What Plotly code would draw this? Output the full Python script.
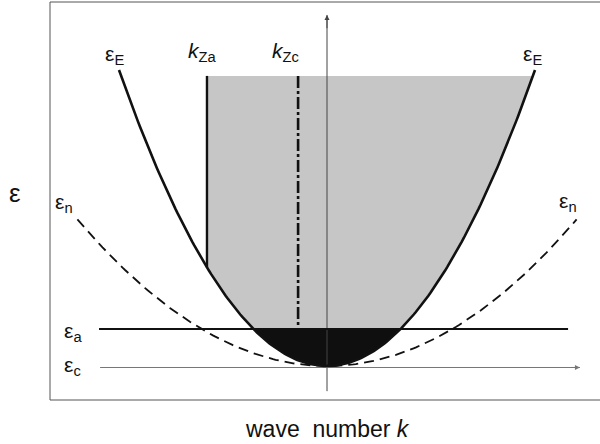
import numpy as np
import plotly.graph_objects as go

# dispersion curves: eps = curvature * k^2 (units)
EPS_E_CURV = 1.0        # epsilon_E
EPS_N_CURV = 0.344      # epsilon_n (dashed)
EPS_E_KMAX = 1.0
EPS_N_KMAX = 1.2

EPS_A = 0.125           # epsilon_a level
EPS_C = -0.005          # epsilon_c level (k axis)
SHADE_TOP = 0.98
K_ZA = -0.577
K_ZC = -0.139

LINE_A_RANGE = [-1.096, 1.159]
K_AXIS_RANGE = [-1.091, 1.216]
E_AXIS_RANGE = [-0.085, 1.186]

X_RANGE = [-327 / 208, 273 / 208]
Y_RANGE = [-78 / 296, 366 / 296]

FONT = "Liberation Sans, Arial, sans-serif"


def parab(curv, k0, k1, n=200):
    k = np.linspace(k0, k1, n)
    return k, curv * k ** 2


fig = go.Figure()

# light grey region (k > k_Za, above eps_a, inside eps_E)
k_cross = np.sqrt(EPS_A / EPS_E_CURV)
k_top = np.sqrt(SHADE_TOP / EPS_E_CURV)
kl, el = parab(EPS_E_CURV, K_ZA, -k_cross)
kr, er = parab(EPS_E_CURV, k_cross, k_top)
gx = [K_ZA] + list(kl) + list(kr) + [K_ZA]
gy = [SHADE_TOP] + list(el) + list(er) + [SHADE_TOP]
fig.add_trace(go.Scatter(x=gx, y=gy, fill="toself", fillcolor="rgb(198,198,198)",
                         line=dict(width=0), mode="lines", hoverinfo="skip"))

# black region below eps_a
kb, eb = parab(EPS_E_CURV, -k_cross, k_cross)
fig.add_trace(go.Scatter(x=list(kb) + [kb[0]], y=list(eb) + [eb[0]], fill="toself",
                         fillcolor="rgb(15,15,15)", line=dict(width=0),
                         mode="lines", hoverinfo="skip"))

# axes
fig.add_trace(go.Scatter(x=[0, 0], y=E_AXIS_RANGE, mode="lines",
                         line=dict(color="#444", width=1), hoverinfo="skip"))
fig.add_trace(go.Scatter(x=K_AXIS_RANGE, y=[EPS_C, EPS_C], mode="lines",
                         line=dict(color="#777", width=1.2), hoverinfo="skip"))

# eps_a line
fig.add_trace(go.Scatter(x=LINE_A_RANGE, y=[EPS_A, EPS_A], mode="lines",
                         line=dict(color="#111", width=2), hoverinfo="skip"))

# eps_n dashed
kn, en = parab(EPS_N_CURV, -EPS_N_KMAX, EPS_N_KMAX)
fig.add_trace(go.Scatter(x=kn, y=en, mode="lines",
                         line=dict(color="#111", width=1.8, dash="10px,6px"),
                         hoverinfo="skip"))

# eps_E solid
ke, ee = parab(EPS_E_CURV, -EPS_E_KMAX, EPS_E_KMAX)
fig.add_trace(go.Scatter(x=ke, y=ee, mode="lines",
                         line=dict(color="#111", width=2.6), hoverinfo="skip"))

# k_Za and k_Zc
fig.add_trace(go.Scatter(x=[K_ZA, K_ZA], y=[SHADE_TOP, EPS_E_CURV * K_ZA ** 2],
                         mode="lines", line=dict(color="#111", width=2.4),
                         hoverinfo="skip"))
fig.add_trace(go.Scatter(x=[K_ZC, K_ZC], y=[SHADE_TOP, EPS_A], mode="lines",
                         line=dict(color="#111", width=2.6, dash="12px,3px,3px,3px"),
                         hoverinfo="skip"))

labels = [
    ("ε", -1.50, 0.584, 26),
    ("ε<sub>n</sub>", -1.265, 0.55, 21),
    ("ε<sub>E</sub>", -1.02, 1.05, 21),
    ("<i>k</i><sub>Za</sub>", -0.60, 1.06, 21),
    ("<i>k</i><sub>Zc</sub>", -0.20, 1.06, 21),
    ("ε<sub>E</sub>", 0.99, 1.05, 21),
    ("ε<sub>n</sub>", 1.16, 0.555, 21),
    ("ε<sub>a</sub>", -1.22, 0.115, 21),
    ("ε<sub>c</sub>", -1.222, 0.0, 21),
    ("wave  number <i>k</i>", 0.0, -0.213, 23),
]
for text, x, y, size in labels:
    fig.add_annotation(x=x, y=y, text=text, showarrow=False,
                       xanchor="center", yanchor="middle",
                       font=dict(family=FONT, size=size, color="#111"))

# arrow heads on the axes
fig.add_annotation(x=0, y=E_AXIS_RANGE[1], ax=0, ay=E_AXIS_RANGE[1] - 0.05,
                   xref="x", yref="y", axref="x", ayref="y", text="",
                   showarrow=True, arrowhead=2, arrowsize=1, arrowwidth=1,
                   arrowcolor="#444")
fig.add_annotation(x=K_AXIS_RANGE[1], y=EPS_C, ax=K_AXIS_RANGE[1] - 0.05, ay=EPS_C,
                   xref="x", yref="y", axref="x", ayref="y", text="",
                   showarrow=True, arrowhead=2, arrowsize=1, arrowwidth=1,
                   arrowcolor="#777")

# frame (top, left, bottom)
frame = dict(color="#555", width=1)
fig.add_shape(type="line", xref="paper", yref="paper", x0=50 / 600, x1=1,
              y0=1 - 2 / 444, y1=1 - 2 / 444, line=frame)
fig.add_shape(type="line", xref="paper", yref="paper", x0=50 / 600, x1=50 / 600,
              y0=1 - 2 / 444, y1=1 - 400 / 444, line=frame)
fig.add_shape(type="line", xref="paper", yref="paper", x0=50 / 600, x1=1,
              y0=1 - 400 / 444, y1=1 - 400 / 444, line=frame)

fig.update_layout(
    width=600, height=444,
    margin=dict(l=0, r=0, t=0, b=0),
    showlegend=False,
    plot_bgcolor="white", paper_bgcolor="white",
    xaxis=dict(range=X_RANGE, visible=False, fixedrange=True),
    yaxis=dict(range=Y_RANGE, visible=False, fixedrange=True),
)

fig.write_html("out.html", config={"displayModeBar": False},
               post_script="document.body.style.margin='0';")
